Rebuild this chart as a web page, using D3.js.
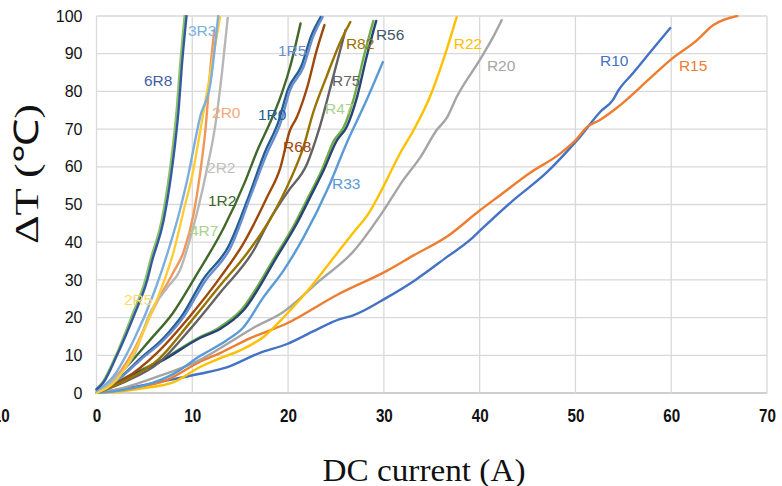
<!DOCTYPE html>
<html>
<head>
<meta charset="utf-8">
<script src="https://cdn.jsdelivr.net/npm/d3@7"></script>
<style>
  body { margin: 0; background: #fff; }
  svg { display: block; }
</style>
</head>
<body>
<svg></svg>
<script>
const seriesNames = ["R10", "R15", "R20", "R22", "R33", "R47", "R56", "R68", "R75", "R82",
  "1R0", "1R2", "1R5", "2R0", "2R2", "2R5", "3R3", "4R7", "6R8"];
const seriesColors = ["#4472c4", "#ed7d31", "#a5a5a5", "#ffc000", "#5b9bd5", "#70ad47", "#264478",
  "#9e480e", "#636363", "#997300", "#255e91", "#43682b", "#698ed0", "#f1975a", "#b7b7b7",
  "#ffcd33", "#7cafdd", "#8cc168", "#335aa1"];

// current (A) and temperature rise per series
const xR10 = [0, 3, 6.3, 10.8, 13.6, 17, 19.9, 22.5, 25.4, 26.8, 30.3, 33.3, 36.6, 39, 40, 43.5, 47, 49.2, 50.5, 52.6, 53.9, 54.5, 56, 58.1, 59.9];
const yR10 = [0, 1.2, 2.8, 5.1, 6.8, 10.6, 13, 16.2, 19.6, 20.6, 25.3, 30, 36.1, 40.6, 43, 51.1, 58.5, 64.3, 68, 74.6, 77.7, 80.3, 84.8, 91.3, 96.8];
const xR15 = [0, 3, 7.4, 10.8, 12.9, 16, 19.9, 25.1, 30.3, 33.1, 36.6, 40, 42.1, 45.2, 48.4, 50, 51.2, 52.6, 54.3, 57.8, 59.9, 62.7, 64.4, 66.9];
const yR15 = [0, 1, 3.5, 8.3, 10.6, 14.5, 18.5, 26, 32.4, 36.5, 41.5, 48.4, 52.4, 58.3, 63.5, 67, 70.5, 72.5, 75.6, 83.5, 88.3, 93.6, 97.6, 100];
const xR20 = [0, 3, 6, 10.8, 13, 16.4, 19.5, 23.3, 26.8, 30, 32, 33.8, 35.5, 36.6, 37.6, 40, 41.4, 42.3];
const yR20 = [0, 1.5, 4, 8.8, 12, 17.3, 21.5, 29.8, 37.5, 48.5, 56.4, 62.5, 69.7, 73.1, 78.5, 88.3, 94.4, 98.9];
const xR22 = [0, 2, 5, 8, 10.8, 13, 15, 17.5, 19.7, 22.3, 25.1, 26.8, 28.5, 29.8, 31.7, 33.1, 34.8, 36.2, 37.6];
const yR22 = [0, 0.3, 1.3, 2.8, 6.9, 9.3, 11.3, 15, 20.5, 27.9, 37, 42.5, 48, 54, 63.6, 69.7, 78.5, 88.3, 99.7];
const xR33 = [0, 2, 5, 8, 10.8, 13.6, 15.3, 17.4, 19.5, 21.6, 24.2, 26.1, 28.2, 29.9];
const yR33 = [0, 0.5, 2, 5, 9.8, 14, 17.3, 25.3, 32.4, 41.2, 54.5, 66.2, 77.7, 87.8];
const xR47 = [0, 3.3, 6.8, 10.6, 12.7, 15.1, 18.6, 20.7, 22.1, 23.5, 24.8, 25.8, 26.9, 27.9, 28.9];
const yR47 = [0, 4.5, 8.8, 14.6, 17.2, 22, 36, 44.9, 51.9, 59, 67, 70.5, 78.5, 89.2, 98.7];
const xR56 = [0, 3.5, 7, 10.8, 12.9, 15.3, 18.8, 20.9, 22.3, 23.7, 25.1, 26.1, 27.2, 28.2, 29.2];
const yR56 = [0, 4.5, 8.8, 14.6, 17, 21.8, 36, 44.9, 51.9, 59, 67, 70.5, 78.5, 89.2, 98.7];
const xR68 = [0, 2.8, 6.3, 9.8, 12.9, 15.3, 17.8, 19.2, 20.2, 20.9, 22, 23, 23.8];
const yR68 = [0, 3.5, 10.6, 20.5, 30.6, 39.5, 51.9, 59.8, 69.7, 73.1, 81.1, 91, 97.6];
const xR75 = [0, 3, 6.5, 9.8, 12.9, 16.4, 18.1, 20, 22, 23.3, 24.7, 26];
const yR75 = [0, 3, 8, 17, 26.6, 37.8, 46, 53.5, 60.9, 70.5, 83.8, 96.3];
const xR82 = [0, 3, 6.5, 9.8, 12.9, 15.7, 18.1, 20.2, 21.6, 22.6, 24, 25.4, 26.5];
const yR82 = [0, 3.3, 9, 18.8, 28.5, 37, 46, 56.4, 65.2, 74.2, 83.8, 92.8, 98.4];
const x1R0 = [0, 2.5, 4.6, 7, 9, 11.1, 13.8, 15.8, 17.6, 19, 20, 21.4, 22.4, 23.4];
const y1R0 = [0, 4.2, 9.2, 14.6, 20.8, 30, 39, 51.5, 64, 72, 80.6, 86.8, 94.6, 99.7];
const x1R2 = [0, 2.8, 5.6, 8, 10.5, 13.3, 15.5, 16.8, 18.1, 19.2, 20.2, 21.3];
const y1R2 = [0, 6.1, 14.1, 21.3, 31.6, 43.9, 56, 64.4, 71.6, 78.5, 86.4, 98];
const x1R5 = [0, 2.5, 4.6, 7, 9.1, 11.3, 14, 16.2, 17.8, 19.2, 20.2, 21.6, 22.6, 23.6];
const y1R5 = [0, 4, 8.8, 14, 20.2, 29.5, 38.6, 53, 63.6, 71.5, 80.3, 86.4, 94.4, 99.7];
const x2R0 = [0, 2.1, 3.9, 5.6, 6.5, 8, 9.1, 10.1, 10.8, 11.4, 11.9, 12.3];
const y2R0 = [0, 4.5, 11.4, 20.5, 25, 31.9, 37.5, 47, 58, 70.5, 86.4, 96.3];
const x2R2 = [0, 2, 4, 5.6, 7.4, 8.7, 9.8, 11.5, 12.4, 13.1, 13.7];
const y2R2 = [0, 4, 10.5, 21.3, 28, 32.5, 41.2, 59, 71, 85, 99.5];
const x2R5 = [0, 2.1, 3.9, 5.6, 7, 8, 9.1, 10.1, 10.6, 11.7, 12.9];
const y2R5 = [0, 3.5, 10.6, 20.5, 29.3, 37, 48.4, 59, 66.2, 82.2, 99.7];
const x3R3 = [0, 1.8, 3.9, 6, 7.4, 8.7, 9.6, 10.3, 10.8, 11.9, 12.7];
const y3R3 = [0.5, 4.5, 14.1, 26.6, 37, 48.4, 58, 67, 73.1, 82.2, 100];
const x4R7 = [0, 0.6, 2, 3.7, 5.1, 5.6, 6.8, 7.6, 8, 8.4, 8.7, 9.2];
const y4R7 = [1, 2.7, 9.8, 20.5, 30, 35, 45.7, 58, 66, 76, 86, 100];
const x6R8 = [0, 0.7, 2.1, 3.9, 5.3, 5.8, 7, 7.8, 8.2, 8.6, 8.9, 9.4];
const y6R8 = [1, 2.7, 9.8, 20.5, 30, 35, 45.7, 58, 66, 76, 86.4, 100];

const seriesX = [xR10, xR15, xR20, xR22, xR33, xR47, xR56, xR68, xR75, xR82, x1R0, x1R2, x1R5, x2R0, x2R2, x2R5, x3R3, x4R7, x6R8];
const seriesY = [yR10, yR15, yR20, yR22, yR33, yR47, yR56, yR68, yR75, yR82, y1R0, y1R2, y1R5, y2R0, y2R2, y2R5, y3R3, y4R7, y6R8];

// where each series name sits (data units: left edge, vertical centre)
const labelX = [52.56, 60.8, 40.76, 37.3, 24.58, 23.85, 29.17, 19.47, 24.58, 26.04, 16.86, 11.64, 18.95, 12.06, 11.54, 2.87, 9.55, 9.76, 4.96];
const labelY = [88.3, 87, 87, 92.6, 55.7, 75.6, 95, 65.5, 83, 92.8, 74, 51.2, 91, 74.5, 59.9, 24.7, 96.3, 43.2, 83];
const labelColors = ["#4472c4", "#ed7d31", "#a5a5a5", "#ffc000", "#5b9bd5", "#a9d18e", "#44546a",
  "#9e480e", "#636363", "#997300", "#255e91", "#43682b", "#698ed0", "#f4a97a", "#bfbfbf",
  "#ffd966", "#7cafdd", "#a9d18e", "#3f5fa8"];

const xTicks = [-10, 0, 10, 20, 30, 40, 50, 60, 70];
const xTickLabels = ["10", "0", "10", "20", "30", "40", "50", "60", "70"];
const yTicks = [0, 10, 20, 30, 40, 50, 60, 70, 80, 90, 100];

const width = 782;
const height = 486;
const margin = { top: 16, right: 15, bottom: 93, left: 96.5 };
const innerWidth = width - margin.left - margin.right;
const innerHeight = height - margin.top - margin.bottom;

const svg = d3.select("svg").attr("width", width).attr("height", height);

const x = d3.scaleLinear().domain([0, 70]).range([0, innerWidth]);
const y = d3.scaleLinear().domain([0, 100]).range([innerHeight, 0]);

const g = svg.append("g").attr("transform", `translate(${margin.left},${margin.top})`);

// grid
g.selectAll("line.hgrid")
  .data(yTicks)
  .enter()
  .append("line")
  .attr("x1", 0)
  .attr("x2", innerWidth)
  .attr("y1", (d) => y(d))
  .attr("y2", (d) => y(d))
  .attr("stroke", (d) => (d === 0 ? "#bfbfbf" : "#d9d9d9"))
  .attr("stroke-width", 1.3);

g.selectAll("line.vgrid")
  .data(xTicks.filter((d) => d >= 0))
  .enter()
  .append("line")
  .attr("x1", (d) => x(d))
  .attr("x2", (d) => x(d))
  .attr("y1", 0)
  .attr("y2", innerHeight)
  .attr("stroke", "#d9d9d9")
  .attr("stroke-width", 1.3);

// axes labels
const yAxis = g.append("g")
  .call(d3.axisLeft(y).tickValues(yTicks).tickSize(0).tickPadding(14));
yAxis.select(".domain").remove();
yAxis.selectAll("text")
  .attr("font-family", "'Liberation Sans', Arial, sans-serif")
  .attr("font-size", 16)
  .attr("fill", "#111");

const xAxis = g.append("g")
  .attr("transform", `translate(0,${innerHeight})`)
  .call(d3.axisBottom(x).tickValues(xTicks).tickSize(0).tickPadding(16)
    .tickFormat((d, i) => xTickLabels[i]));
xAxis.select(".domain").remove();
xAxis.selectAll("text")
  .attr("font-family", "'Liberation Sans', Arial, sans-serif")
  .attr("font-weight", "bold")
  .attr("font-size", 19)
  .attr("transform", "scale(0.8,1)")
  .attr("fill", "#111");

// lines
svg.append("clipPath").attr("id", "plot")
  .append("rect").attr("x", -2).attr("y", -1).attr("width", innerWidth + 4).attr("height", innerHeight + 2);

const line = d3.line()
  .x((d) => x(d[0]))
  .y((d) => y(d[1]))
  .curve(d3.curveMonotoneX);

const lines = seriesNames.map((name, i) => ({
  name,
  color: seriesColors[i],
  points: seriesX[i].map((v, j) => [v, seriesY[i][j]])
}));

g.append("g")
  .attr("clip-path", "url(#plot)")
  .selectAll("path")
  .data(lines)
  .enter()
  .append("path")
  .attr("d", (d) => line(d.points))
  .attr("fill", "none")
  .attr("stroke", (d) => d.color)
  .attr("stroke-width", 2.4)
  .attr("stroke-linejoin", "round")
  .attr("stroke-linecap", "round");

g.selectAll("text.series")
  .data(seriesNames)
  .enter()
  .append("text")
  .attr("class", "series")
  .attr("x", (d, i) => x(labelX[i]))
  .attr("y", (d, i) => y(labelY[i]))
  .attr("dy", "0.36em")
  .attr("font-family", "'Liberation Sans', Arial, sans-serif")
  .attr("font-size", 15.5)
  .attr("fill", (d, i) => labelColors[i])
  .text((d) => d);

// axis titles
svg.append("text")
  .attr("transform", "translate(38,174) rotate(-90)")
  .attr("text-anchor", "middle")
  .attr("font-family", "'Liberation Serif', 'Times New Roman', serif")
  .attr("font-size", 34)
  .attr("textLength", 140)
  .attr("lengthAdjust", "spacingAndGlyphs")
  .attr("fill", "#111")
  .text("ΔT (℃)");

svg.append("text")
  .attr("x", 424)
  .attr("y", 481)
  .attr("text-anchor", "middle")
  .attr("font-family", "'Liberation Serif', 'Times New Roman', serif")
  .attr("font-size", 32)
  .attr("textLength", 203)
  .attr("lengthAdjust", "spacingAndGlyphs")
  .attr("fill", "#111")
  .text("DC current (A)");
</script>
</body>
</html>
